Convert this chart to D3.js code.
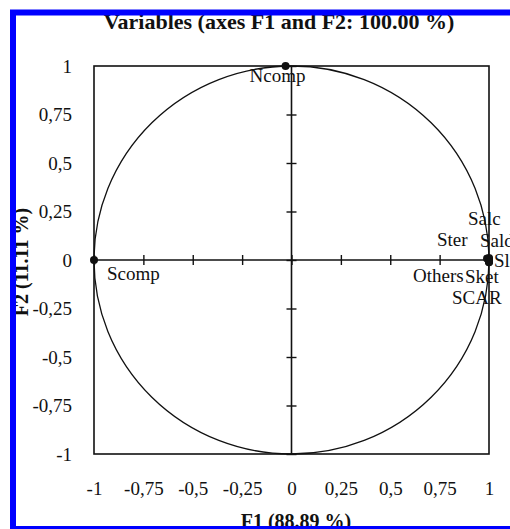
<!DOCTYPE html>
<html>
<head>
<meta charset="utf-8">
<script src="https://cdn.jsdelivr.net/npm/d3@7"></script>
<style>
  body { margin: 0; background: #fff; }
  svg { display: block; font-family: "Liberation Serif", "Times New Roman", serif; }
</style>
</head>
<body>
<script>
// variables of the correlation circle (F1, F2 coordinates)
var variables = ["Ncomp", "Scomp", "Salc", "Ster", "Sald", "Slac", "Others", "Sket", "SCAR"];
var f1Values = [-0.03, -1.00, 1.00, 0.99, 1.00, 1.00, 1.00, 1.00, 1.00];
var f2Values = [1.00, 0.00, 0.01, 0.008, 0.005, 0.00, -0.005, -0.01, -0.012];

// tick values and axis titles
var tickValues = [-1, -0.75, -0.5, -0.25, 0, 0.25, 0.5, 0.75, 1];
var chartTitle = "Variables (axes F1 and F2: 100.00 %)";
var xTitle = "F1 (88.89 %)";
var yTitle = "F2 (11.11 %)";

// where each label sits relative to its point, in pixels
var labelOffsets = {
    Ncomp: [-36, 16], Scomp: [13, 20], Salc: [-21, -33], Ster: [-50, -12],
    Sald: [-9, -12], Slac: [5, 7], Others: [-76, 21], Sket: [-24, 21], SCAR: [-37, 42]
};

var width = 510, height = 529;
var plotLeft = 94, plotRight = 489, plotTop = 66, plotBottom = 454;

var svg = d3.select("body").append("svg")
            .attr("width", width)
            .attr("height", height);

var x = d3.scaleLinear().domain([-1, 1]).range([plotLeft, plotRight]);
var y = d3.scaleLinear().domain([-1, 1]).range([plotBottom, plotTop]);

var fmt = d3.formatLocale({decimal: ",", thousands: ".", grouping: [3], currency: ["", ""], minus: "-"}).format("~g");

//Plot frame
svg.append("rect")
    .attr("x", x(-1))
    .attr("y", y(1))
    .attr("width", x(1) - x(-1))
    .attr("height", y(-1) - y(1))
    .style("fill", "none")
    .style("stroke", "#111")
    .style("stroke-width", 1.6);

//Unit circle
svg.append("ellipse")
    .attr("cx", x(0))
    .attr("cy", y(0))
    .attr("rx", x(1) - x(0))
    .attr("ry", y(0) - y(1))
    .style("fill", "none")
    .style("stroke", "#111")
    .style("stroke-width", 1.3);

//Axes through the origin, with crossing ticks
svg.append("line")
    .attr("x1", x(-1)).attr("x2", x(1))
    .attr("y1", y(0)).attr("y2", y(0))
    .style("stroke", "#111").style("stroke-width", 1.6);
svg.append("line")
    .attr("x1", x(0)).attr("x2", x(0))
    .attr("y1", y(-1)).attr("y2", y(1))
    .style("stroke", "#111").style("stroke-width", 1.6);

var crossX = svg.append("g")
    .attr("transform", "translate(0," + (y(0) - 5) + ")")
    .call(d3.axisBottom(x).tickValues(tickValues).tickSize(10).tickFormat(""));
var crossY = svg.append("g")
    .attr("transform", "translate(" + (x(0) + 5) + ",0)")
    .call(d3.axisLeft(y).tickValues(tickValues).tickSize(10).tickFormat(""));
[crossX, crossY].forEach(function(g){
    g.select(".domain").remove();
    g.selectAll("line").style("stroke", "#111").style("stroke-width", 1.4);
});

//Tick labels outside the frame
var xLabels = svg.append("g")
    .attr("transform", "translate(0," + y(-1) + ")")
    .call(d3.axisBottom(x).tickValues(tickValues).tickSize(0).tickPadding(28).tickFormat(fmt));
var yLabels = svg.append("g")
    .attr("transform", "translate(" + x(-1) + ",0)")
    .call(d3.axisLeft(y).tickValues(tickValues).tickSize(0).tickPadding(22).tickFormat(fmt));
[xLabels, yLabels].forEach(function(g){
    g.select(".domain").remove();
    g.selectAll("text")
        .style("font-family", "Liberation Serif, serif")
        .style("font-size", "19px")
        .style("fill", "#111");
});

//Variable points
svg.selectAll("circle.pt")
    .data(variables)
    .enter()
    .append("circle")
    .attr("class", "pt")
    .attr("cx", function(d, i){return x(f1Values[i]);})
    .attr("cy", function(d, i){return y(f2Values[i]);})
    .attr("r", 4)
    .style("fill", "#111");

//Variable labels
svg.selectAll("text.lbl")
    .data(variables)
    .enter()
    .append("text")
    .attr("class", "lbl")
    .attr("x", function(d, i){return x(f1Values[i]) + labelOffsets[d][0];})
    .attr("y", function(d, i){return y(f2Values[i]) + labelOffsets[d][1];})
    .text(function(d){return d;})
    .style("font-size", "19px")
    .style("fill", "#111");

//Titles
svg.append("text")
    .attr("x", 279)
    .attr("y", 29)
    .attr("text-anchor", "middle")
    .style("font-size", "22px")
    .style("font-weight", "bold")
    .style("fill", "#111")
    .text(chartTitle);

svg.append("text")
    .attr("x", 296)
    .attr("y", 528)
    .attr("text-anchor", "middle")
    .style("font-size", "20px")
    .style("font-weight", "bold")
    .style("fill", "#111")
    .text(xTitle);

svg.append("text")
    .attr("transform", "translate(28,262) rotate(-90)")
    .attr("text-anchor", "middle")
    .style("font-size", "20px")
    .style("font-weight", "bold")
    .style("fill", "#111")
    .text(yTitle);

//Blue border drawn last, over the clipped titles
svg.append("rect")
    .attr("x", 13)
    .attr("y", 12.5)
    .attr("width", 600)
    .attr("height", 516.5)
    .style("fill", "none")
    .style("stroke", "#0000ff")
    .style("stroke-width", 6);
</script>
</body>
</html>
